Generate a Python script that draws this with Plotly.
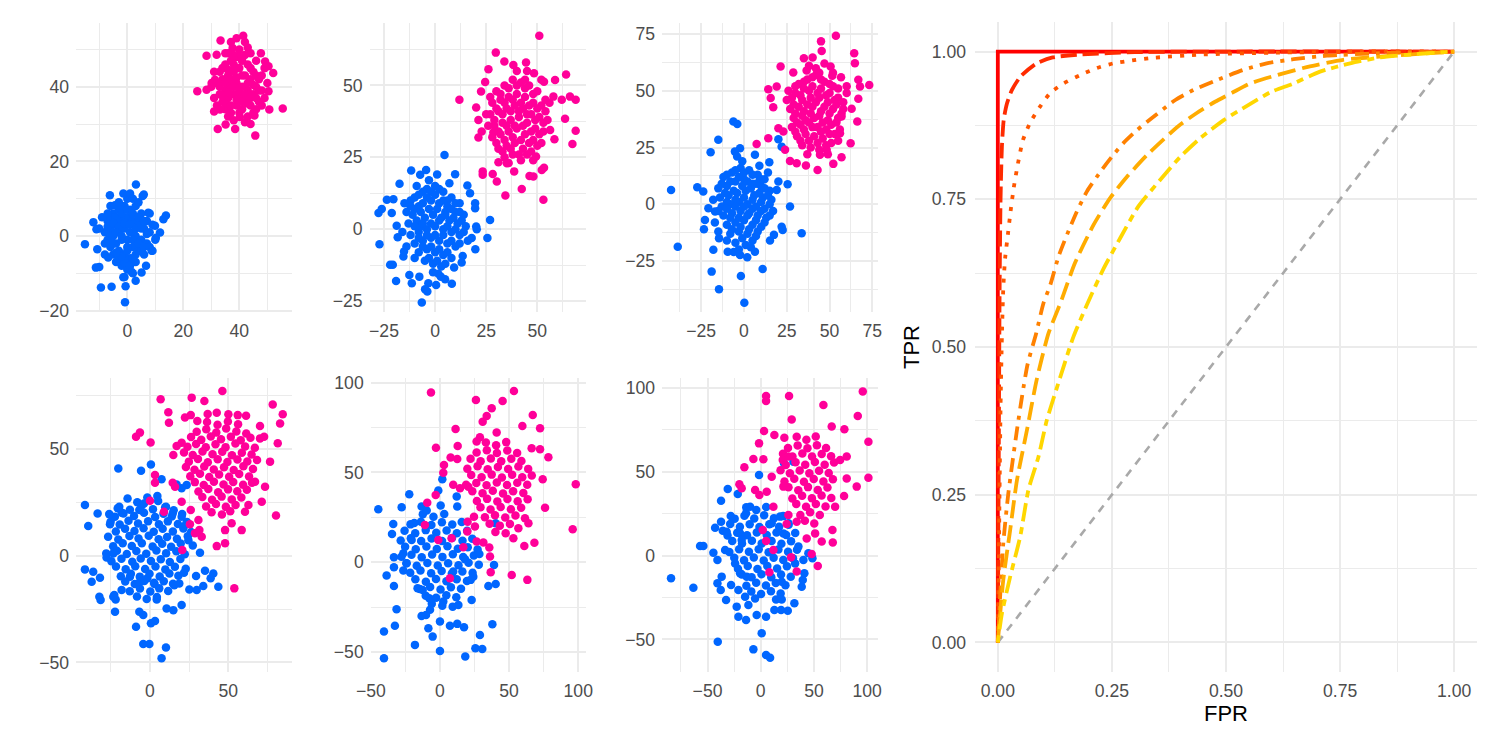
import plotly.graph_objects as go

# ---------------- scatter data (x, y) ----------------
p1_blue = [(-7,4),(-5,6),(-3,7),(-1,8),(1,7),(3,8),(5,6),(7,4),(-8,1),(-6,2),(-4,3),(-2,4),(0,5),(2,4),(4,3),(6,2),(8,1),
           (-7,-1),(-5,0),(-3,1),(-1,2),(1,1),(3,0),(5,-1),(7,-2),(-6,-3),(-4,-2),(-2,-1),(0,-1),(2,-3),(4,-4),(6,-5),
           (-5,-5),(-3,-4),(-1,-5),(1,-6),(3,-7),(5,-4),(-4,-7),(-2,-8),(0,-9),(2,-10),(-1,-11),(-9,5),(-10,2),(9,3),
           (10,-1),(-6,8),(4,9),(0,10),
           (3.1,13.8),(-6.2,10.9),(-1.4,11.4),(1.0,11.4),(5.5,10.7),(5.9,11.1),(-4.4,8.2),(13.8,5.5),(12.9,4.5),(11.7,0.9),
           (10.2,-0.5),(-15.1,-2.2),(-12.1,3.7),(-11.0,1.8),(-10.7,-3.6),(-6.8,-5.8),(-11.2,-8.5),(-10.0,-8.3),(-9.4,-13.8),
           (-5.6,-13.6),(-0.6,-13.5),(-0.8,-17.8),(-1.4,-11.1),(1.5,-9.6),(5.1,-9.8),(6.7,-8.0),(8.7,-4.0),(7.5,6.2),(9.9,2.7)]
p1_blue_more = [(-6,5),(-4,5),(-2,6),(0,7),(2,6),(4,5),(6,4),(-7,2.5),(-5,3.5),(-3,2.5),(-1,3.5),(1,3),(3,2),(5,2),
                (7,0.5),(-6,0),(-4,1),(-2,0),(0,-3),(2,-1),(4,-2),(6,-3),(-5,-2),(-3,-6),(-1,-7),(1,-8),(3,-5),(-2,-5.5),
                (0,-4),(2,-6),(-4,-4.5),(8,-3),(-8,-2),(-3,9),(2,10),(-7,6),(8,6),(9,-4),(-8,-5),(3,-12)]
p1_pink = [(33,44),(35,46),(37,47),(39,48),(41,47),(43,46),(45,44),(47,42),(32,41),(34,42),(36,43),(38,44),(40,45),(42,43),
           (44,42),(46,40),(48,39),(33,38),(35,39),(37,40),(39,41),(41,40),(43,39),(45,38),(47,36),(34,36),(36,37),(38,38),
           (40,37),(42,36),(44,35),(46,34),(35,34),(37,33),(39,35),(41,34),(43,32),(38,31),(36,49),(40,50),(44,49),(30,40),
           (31,37),(49,45),(50,41),(42,52),(37,52),
           (41.4,53.7),(33.3,52.4),(37.6,50.4),(43,50.5),(28.3,48.3),(31.9,48.6),(47.7,49),(49.2,46.8),(50.4,45.5),(52.1,43.7),
           (25,38.8),(28.3,39.2),(55.5,34.2),(50.7,33.9),(48,35),(45.4,32.3),(32.3,28.7),(35.1,29.9),(38.5,28.7),(45.7,26.9),
           (31,33.4),(33.1,33.9),(40.2,31.9),(50.4,38.8),(30.1,41),(31.3,41.9)]
p1_pink_more = [(34,45),(36,44.5),(38,46),(40,48),(42,48.5),(44,45),(46,43),(33,40),(35,41),(37,42),(39,42.5),(41,43),
                (43,41),(45,40.5),(47,39),(34,37.5),(36,38.5),(38,40),(40,39),(42,38),(44,37),(46,37),(35,35.5),(37,35),
                (39,36.5),(41,36),(43,35.5),(45,33),(40,33),(36,32),(42,30.5),(38,48.5),(35,49),(46,47),(48,43),(31,44),
                (32,35),(49,37),(44,30),(39,53)]

p2_blue = [(-12,10),(-8,12),(-4,14),(0,15),(4,13),(8,11),(12,9),(-14,6),(-10,7),(-6,9),(-2,10),(2,9),(6,8),(10,6),(14,5),
           (-13,2),(-9,3),(-5,4),(-1,5),(3,4),(7,3),(11,2),(15,1),(-12,-2),(-8,-1),(-4,0),(0,1),(4,0),(8,-1),(12,-2),
           (-10,-5),(-6,-4),(-2,-3),(2,-4),(6,-5),(10,-6),(-8,-8),(-4,-7),(0,-8),(4,-9),(8,-10),(-5,-11),(-1,-12),(3,-13),
           (-3,17),(1,19),(-16,-1),(16,-4),(-7,1),(5,6),
           (4.6,25.8),(-11.7,20.4),(-4.4,20.6),(-7.3,18.9),(9.8,19.1),(15.8,15.2),(-17.4,15.8),(-23.6,10.2),(-20.4,10.4),
           (-21.2,5.6),(-27.7,5.6),(-26.1,7),(-27.2,-5.2),(-18.8,1.2),(-18.3,-2.8),(19.6,9),(19.6,7.3),(20.1,0.9),(20.4,0),
           (26.9,3.2),(25.6,-3.1),(19.7,-7),(17.9,-3.1),(13.5,-9.3),(13,-11.6),(9.3,-13.3),(8.2,-19),(4.9,-17.4),(0.5,-19.4),
           (-3.3,-18.8),(-3.8,-21.7),(-4.9,-20.9),(-6.5,-25.5),(-19.1,-18),(-11.4,-18.8),(-12.6,-15.9),(-22,-12.4),
           (-20.7,-12.4),(-15.5,-9.5),(-15.2,-7.8),(-7.7,-16.5),(1.6,-15.5),(2.8,-16.5),(17.1,12.5)]
p2_blue_more = [(-10,11),(-6,13),(-2,13),(2,14),(6,10),(10,9),(-12,8),(-8,8),(-4,11),(0,12),(4,10),(8,7),(12,6),(-11,5),
                (-7,6),(-3,7),(1,7),(5,5),(9,4),(13,3),(-10,1),(-6,2),(-2,2),(2,3),(6,1),(10,0),(14,-1),(-8,-3),(-4,-2),
                (0,-2),(4,-2),(8,-4),(12,-5),(-6,-6),(-2,-6),(2,-7),(6,-8),(-3,-10),(1,-11),(5,-12),(-10,-10),(-14,-6),
                (-15,9),(-9,15),(7,16),(-1,-15)]
p2_pink = [(30,48),(34,50),(38,52),(42,51),(46,50),(50,48),(28,44),(32,45),(36,46),(40,47),(44,46),(48,44),(52,43),
           (27,40),(31,41),(35,42),(39,43),(43,42),(47,40),(51,39),(55,38),(29,36),(33,37),(37,38),(41,39),(45,37),(49,35),
           (53,34),(28,32),(32,33),(36,34),(40,35),(44,33),(48,31),(52,30),(31,28),(35,29),(39,30),(43,28),(47,27),
           (34,25),(38,26),(42,24),(56,44),(26,36),(40,55),(45,55),
           (51,67.3),(29.7,61.4),(33.9,58.3),(38.3,57.1),(44.5,58),(26.1,55.6),(48.4,54.2),(53.3,51.3),(58.7,51.9),(64.1,53.8),
           (24.5,51.2),(22.5,47.9),(11.9,45),(20.1,42.3),(21.2,38),(22.8,34),(21.2,31.9),(66,46.1),(68.8,45),(63.6,38.4),
           (68.8,34.2),(67.2,29.6),(23.3,20.1),(23.3,18.9),(28.2,19.2),(30.2,16.6),(34.4,11.7),(42.4,14),(53,10.2),
           (46.2,18.5),(48.1,18.3),(52.2,20.6),(53.3,21.4),(49.4,25.3),(38.7,20.1),(31,23.3),(35.1,22.9),(28.5,33.6),
           (58.4,31.3),(56.3,34.5),(62,45),(57.9,46.1)]
p2_pink_more = [(32,47),(36,49),(40,50),(44,49),(48,47),(30,42),(34,44),(38,45),(42,44),(46,43),(50,42),(54,41),(29,38),
                (33,40),(37,41),(41,41),(45,40),(49,38),(53,37),(31,34),(35,36),(39,36),(43,36),(47,34),(51,33),(30,30),
                (34,31),(38,32),(42,31),(46,30),(50,29),(33,27),(37,28),(41,26),(45,26),(36,23),(54,45),(27,46),(44,52),
                (52,52),(25,40),(48,24)]

p3_blue = [(-12,12),(-7,14),(-2,16),(3,15),(8,13),(12,11),(-15,7),(-10,8),(-5,10),(0,11),(5,9),(10,8),(15,6),
           (-14,3),(-9,4),(-4,5),(1,6),(6,4),(11,3),(16,2),(-13,-1),(-8,0),(-3,1),(2,0),(7,-1),(12,-2),
           (-12,-5),(-7,-4),(-2,-3),(3,-4),(8,-5),(13,-6),(-10,-9),(-5,-8),(0,-7),(5,-9),(10,-10),
           (-8,-13),(-3,-12),(2,-13),(7,-14),(-5,-17),(1,-18),(4,-19),(-18,2),(-17,-8),(17,-3),(-1,19),(9,17),(-6,-21),
           (-6.2,36.5),(-3.9,35.4),(-15,28.4),(-19.5,22.9),(14.8,18.5),(20.1,28.7),(22,25.4),(6.4,21.8),(-2.3,24.7),
           (-5.3,23.2),(-42.6,6.3),(-27.3,7.5),(-23.8,5.6),(25.5,8.8),(26.9,-1),(33.7,-12.8),(-38.7,-18.7),(-23.4,-11),
           (-22.8,-6.9),(22,-9.9),(22.6,-11.3),(17.5,-13.5),(15.2,-16),(-14.6,-15),(-17.9,-20.1),(-9.5,-20.9),(-2.3,-22.4),
           (1.9,-23.4),(6.4,-20.9),(10.9,-28.5),(-18.9,-29.7),(-1.8,-31.6),(-14.6,-37.5),(0.2,-43.4),(-16.9,-3.2),
           (-20.8,-1.8),(20.1,10),(19.1,6.3),(9.3,10.7)]
p3_blue_more = [(-10,13),(-5,15),(0,14),(5,13),(10,11),(-13,9),(-8,10),(-3,12),(2,10),(7,9),(12,7),(-11,5),(-6,6),(-1,8),
                (4,7),(9,5),(14,4),(-10,1),(-5,2),(0,3),(5,2),(10,1),(15,0),(-15,-3),(-10,-2),(-5,-1),(0,-1),(5,-2),
                (10,-3),(15,-5),(-8,-6),(-3,-6),(2,-5),(7,-7),(12,-8),(-7,-11),(-2,-10),(3,-11),(8,-12),(-1,-15),
                (-10,-16),(5,-16),(-3,-20),(-15,-12),(14,14),(-4,21)]
p3_pink = [(30,52),(35,54),(40,56),(45,55),(50,53),(55,51),(28,47),(33,48),(38,50),(43,49),(48,48),(53,46),(58,45),
           (27,42),(32,43),(37,44),(42,45),(47,43),(52,42),(57,40),(29,38),(34,39),(39,40),(44,39),(49,37),(54,36),
           (28,34),(33,35),(38,36),(43,34),(48,33),(53,31),(31,30),(36,31),(41,30),(46,29),(51,27),
           (34,26),(39,25),(44,24),(49,22),(25,46),(60,49),(42,60),(47,62),(38,61),
           (53.7,74.3),(45,71.8),(45.4,67.6),(64.4,66.6),(64.8,62.2),(35,64.4),(40.1,64.7),(21.4,60.7),(28.8,58.1),(36.6,59),
           (50.6,60.7),(56.7,56),(51.6,56.6),(66.8,54.9),(67.8,51.9),(73.2,52.6),(14.2,50.7),(19.1,51.9),(17.1,42.8),
           (15.6,46.8),(66.8,46.5),(62.9,42.1),(66.2,36.5),(7.4,26.6),(14.2,29.1),(24,24),(26.9,19.1),(30.8,18.1),
           (36.2,17.1),(43,15.1),(52.2,17.8),(57,20.7),(62.3,26.9),(44.4,21.8),(48.3,24),(20.1,33.5),(23,32.1),
           (56.1,31.3),(57,38.7)]
p3_pink_more = [(32,53),(37,55),(42,57),(47,54),(52,52),(30,49),(35,51),(40,52),(45,51),(50,49),(55,47),(29,44),(34,46),
                (39,47),(44,47),(49,45),(54,44),(30,40),(35,41),(40,43),(45,41),(50,40),(55,38),(31,36),(36,37),(41,38),
                (46,36),(51,35),(56,33),(30,32),(35,33),(40,34),(45,32),(50,31),(33,28),(38,28),(43,27),(48,26),(55,28),
                (37,22),(58,42),(60,52),(26,50),(44,58),(52,58)]

p4_blue = [(-20.2,40.9),(-5.7,39.8),(0.6,42.8),(7.4,35.8),(4.7,28),(-41.5,23.8),(-39.4,13.9),(-33.4,19.8),(-26,19.5),
           (-20.6,22.2),(-18.1,20.2),(-25.5,14.8),(-6.8,21.4),(-3.8,24.5),(10.2,23),(14.5,19.8),(20.2,18.3),(23,14.8),
           (24.5,7.3),(31.9,1.4),(-41.5,-6.4),(-36.2,-7.5),(-37.2,-12.2),(-31.9,-10.3),(-32.3,-19.2),(-31.5,-20.8),
           (-27.7,-0.8),(-23.4,1.1),(-22.8,-18.4),(-21.9,-20.5),(-22.3,-26.3),(-8.9,-33.3),(-6.8,-26.3),(-4.3,-27.8),
           (0.6,-31.7),(3.2,-30.6),(-4.3,-41.4),(-0.4,-41.4),(10.2,-43),(7.4,-48.1),(10.6,-24.7),(14.9,-25.5),
           (20.2,-23.1),(4.3,-20.5),(25.1,-15.8),(29.8,-16.1),(34,-14.2),(38.7,-10.6),(43.6,-14.5),(40.4,-8.3),(35.1,-7),
           (29.4,-9.5),(15.5,-13.8),(21.7,-8),(18.7,-13),(-1.7,-10.6),(2.6,-12.7),(-6.4,-12.2),(-18.1,-16.1),
           (-23.4,-19.2),(-12.8,-9.8),(20.2,31.6),(23.4,33.1),(17,33.4)]
p4_blue_more = [(-14.3,26.8),(-8.1,25.1),(-1.7,27.3),(5.2,25.6),
                (-19.6,22.9),(-12.8,21.6),(-5.4,23.4),(1.9,21.8),(9.7,22.7),(15.1,21.3),
                (-22.4,18.3),(-16.9,19.8),(-10.2,18.6),(-3.8,20.1),(3.3,18.2),(8.6,19.7),(13.9,18.4),(20.5,19.5),
                (-25.1,15.9),(-19.3,14.6),(-13.7,16.4),(-7.6,15.1),(-1.2,16.2),(5.7,14.8),(11.4,16.1),(17.8,14.9),(23.6,15.8),
                (-21.8,11.3),(-15.9,12.7),(-9.9,11.6),(-4.1,12.9),(2.4,11.2),(8.1,12.6),(14.6,11.4),(21.3,12.8),(26.2,11.1),
                (-26.7,8.9),(-20.2,7.6),(-13.1,9.3),(-7.3,8.1),(-0.8,9.4),(5.5,7.7),(10.9,8.8),(17.2,7.9),(24.1,9.1),
                (-23.5,4.4),(-17.4,5.8),(-11.6,4.6),(-5.2,5.9),(1.7,4.3),(7.8,5.6),(13.5,4.2),(19.6,5.7),(27.3,4.8),
                (-27.9,1.1),(-21.1,2.3),(-14.8,0.8),(-8.7,2.2),(-2.4,0.9),(4.1,2.4),(10.3,1.2),(16.8,2.1),(22.2,0.7),
                (-24.6,-2.6),(-18.2,-1.4),(-11.3,-2.8),(-5.9,-1.3),(0.6,-2.5),(6.9,-1.6),(12.7,-2.9),(19.4,-1.5),
                (-21.7,-5.1),(-15.5,-6.3),(-9.4,-4.9),(-3.1,-6.2),(3.5,-5.0),(9.8,-6.4),(15.9,-5.2),(22.8,-6.1),
                (-18.6,-9.6),(-12.2,-8.4),(-6.5,-9.8),(-0.3,-8.5),(6.2,-9.7),(12.4,-8.3),(18.1,-9.4),
                (-15.8,-12.1),(-9.7,-13.3),(-3.6,-11.9),(2.9,-13.2),(8.8,-12.0),(14.7,-13.1),
                (-12.9,-16.6),(-6.4,-15.4),(0.2,-16.8),(5.9,-15.3),(11.6,-16.5),
                (-8.3,-19.1),(-2.1,-20.3),(4.4,-19.4)]
p4_pink = [(46.2,77.2),(6.8,73.3),(26.6,74.1),(34.7,72.5),(11.7,67.2),(12.1,62.3),(22.3,64.8),(26,65.9),(30.2,63.1),
           (36.8,66.4),(42.6,67),(50,66.3),(56,65.9),(61.3,65.6),(78.3,70.9),(84.7,66.3),(83,62),(70.2,60.8),(70.2,55),
           (72.8,55.8),(81.5,52.7),(-8.9,55.8),(-6.4,57.7),(0.4,53.1),(3.2,37.8),(3.2,34.2),(0,25.8),(8.9,20.6),
           (20.6,2.7),(53.8,-15.3),(42.6,4.5),(47.9,5.8),(33,8.9),(31.5,12),(28.7,10.5),(47.9,12),(52.1,15.2),(58.5,12),
           (71.3,25.3),(62.8,23.8),(60.6,20.6),(80.4,18.8),(73.4,32.3),(67,34.7),(76.6,44.1),(14.5,34.2),(16,32.3),
           (14.9,47.2),(17,51.4),(20.2,53),(20.2,25.3),(26,21.4),(25.5,14.8),(30.9,16.7)]
p4_pink_more = [(36.4,62.7),(43.1,61.4),(49.7,62.9),(56.2,61.6),
                (29.8,58.1),(35.9,59.3),(42.3,57.8),(48.6,59.6),(55.1,58.2),(61.4,57.3),
                (26.2,55.6),(32.7,54.3),(38.8,55.9),(45.3,54.6),(51.6,55.8),(57.9,54.1),(64.1,55.3),
                (23.9,51.1),(29.4,52.4),(35.6,50.8),(41.8,52.2),(48.2,50.9),(54.5,52.6),(60.7,51.2),(66.9,50.6),
                (21.7,48.4),(27.3,47.2),(33.5,48.9),(39.9,47.6),(46.1,48.7),(52.3,47.1),(58.6,48.3),(64.8,47.4),
                (24.8,44.1),(30.6,45.3),(36.9,43.8),(43.2,45.2),(49.4,43.9),(55.8,45.1),(62.1,44.2),(68.3,44.9),
                (22.9,41.6),(28.4,40.3),(34.6,41.8),(40.7,40.4),(47.2,41.5),(53.4,40.2),(59.6,41.9),(65.7,40.6),
                (25.7,37.2),(31.9,38.4),(37.8,36.9),(44.1,38.1),(50.5,37.0),(56.9,38.3),(63.2,37.1),
                (28.6,34.5),(34.3,33.2),(40.8,34.7),(46.9,33.4),(53.1,34.6),(59.4,33.3),(65.1,34.2),
                (30.9,30.1),(37.2,31.3),(43.5,29.8),(49.8,31.1),(55.7,30.2),(61.8,30.9),
                (33.4,27.5),(39.6,26.2),(45.7,27.7),(52.2,26.4),(58.3,27.3),
                (35.8,23.1),(42.1,24.2),(48.4,22.9),(54.6,23.8),
                (39.3,20.4),(45.9,19.3),(51.2,20.8)]

p5_blue = [(1.7,46.2),(-1.2,39.9),(-22.2,37.9),(-13.3,31),(-9.6,28.8),(0.5,31.6),(-27.7,30.6),(-44.6,29.5),(12.1,36.6),
           (12.5,31),(-33.8,21.3),(-34.7,15.8),(-18.6,21.9),(-33.3,2.8),(-33.3,-2.8),(-38.6,-7.4),(-33.3,-13.2),
           (-26.5,-4.6),(-16.2,-14.5),(-31.4,-26.2),(-32.6,-35.4),(-40.5,-38.6),(-40.5,-53.5),(-18.1,-46),(-13.3,-29.9),
           (-10.1,-29.3),(-7.2,-26.5),(-8.4,-36.7),(-5.3,-41.4),(0,-49.4),(18.3,-52.5),(25.6,-47.9),(30.6,-48.3),
           (28.9,-40.5),(37.9,-34.5),(0,-33),(7.2,-35.3),(12.5,-34.3),(17.4,-36.2),(9.2,-24.7),(13.3,-23.8),(2.4,-21.9),
           (22.9,-21),(22.2,-9.8),(24.1,-8),(35,-13.2),(40.3,-12.1),(39.1,-1.5),(28.5,4.6),(40.3,21.7),(18.1,1.7),
           (9.6,-5.2),(-7.7,-20),(-12.5,-15.4),(-20.5,12.4),(-26.5,5),(-24.1,-0.6)]
p5_blue_more = [(-12.4,26.8),(-4.7,25.3),(3.1,26.9),
                (-21.3,21.1),(-13.8,22.6),(-6.2,20.8),(1.4,22.3),(8.9,21.0),(15.7,22.4),
                (-25.6,17.6),(-17.9,16.2),(-10.3,17.9),(-2.7,16.4),(4.8,17.7),(12.2,16.1),(19.6,17.5),
                (-28.4,12.1),(-21.1,13.4),(-13.6,11.8),(-6.1,13.2),(1.5,11.9),(8.7,13.5),(16.3,12.0),(23.4,13.1),
                (-25.2,8.6),(-17.5,7.3),(-9.8,8.8),(-2.3,7.4),(5.4,8.9),(12.9,7.5),(20.1,8.4),(27.2,7.1),
                (-27.9,3.1),(-20.6,4.2),(-13.2,2.8),(-5.7,4.3),(1.8,3.0),(9.3,4.4),(16.8,2.9),(24.5,3.8),
                (-24.3,-0.6),(-16.8,-1.9),(-9.1,-0.4),(-1.6,-1.8),(5.9,-0.5),(13.4,-1.6),(20.7,-0.3),(28.1,-1.4),
                (-21.5,-5.9),(-14.1,-4.6),(-6.4,-6.1),(1.2,-4.8),(8.6,-6.2),(16.2,-5.1),(23.6,-5.8),
                (-17.8,-9.4),(-10.2,-10.8),(-2.9,-9.3),(4.7,-10.6),(12.1,-9.5),(19.5,-10.4),
                (-14.6,-14.9),(-7.1,-13.8),(0.4,-15.2),(7.9,-13.9),(15.2,-14.7),
                (-10.3,-18.6),(-2.8,-19.7),(4.6,-18.4),(11.8,-19.5),
                (-5.9,-23.1),(1.7,-24.2)]
p5_pink = [(-6.5,94.5),(53.5,95.4),(26,90.4),(45.3,89.8),(37.4,85.7),(33.8,81.5),(30.9,78.3),(67.1,82),(59.6,75.9),
           (72.4,74.6),(11.3,74.2),(-2.9,63.8),(12.8,64.8),(26.5,67.2),(28.9,69.6),(41,72.2),(66.3,63.5),(72.4,62.9),
           (78.4,58.5),(2.9,54.2),(2.4,49.9),(7.7,58.3),(12.5,57.5),(98.2,43.4),(96,18.4),(76,30.4),(74.3,46.2),
           (-3.1,37.5),(-9.2,33.2),(-10.9,20.8),(-1.2,12.4),(8.4,13.4),(16.9,8.4),(7.2,-8.9),(36.7,-5.6),(51.9,-7.1),
           (63.2,-9.8),(36.2,3.2),(35.7,8.2),(61,9.1),(68.3,10.9),(53.1,13.4),(61.5,24.5),(64,21.7),(56.7,18.9),
           (9.6,43.1),(14.5,41.2),(20.5,42.1),(20,22.6),(24.6,25.4),(26.5,11.5),(31.4,11),(19.8,17.1),(25.3,19.9)]
p5_pink_more = [(33.2,66.7),(40.6,65.2),(47.9,66.9),
                (26.5,61.1),(33.9,62.4),(41.2,60.8),(48.7,62.2),(55.8,60.9),
                (22.1,57.6),(29.4,56.3),(36.8,57.8),(44.3,56.2),(51.6,57.7),(58.9,56.4),
                (19.8,52.1),(27.2,53.4),(34.5,51.8),(41.9,53.1),(49.3,51.9),(56.7,53.3),(63.8,52.0),
                (22.6,48.6),(30.1,47.3),(37.4,48.8),(44.8,47.2),(52.2,48.7),(59.5,47.4),(66.4,48.3),
                (18.9,43.1),(26.3,44.2),(33.7,42.9),(41.1,44.4),(48.5,43.0),(55.9,44.3),(63.1,43.2),
                (23.4,39.6),(30.8,38.4),(38.2,39.8),(45.6,38.3),(52.9,39.5),(60.3,38.6),
                (26.7,34.1),(34.1,35.3),(41.5,33.9),(48.8,35.2),(56.2,34.0),(63.4,35.1),
                (29.3,30.6),(36.6,29.4),(43.9,30.8),(51.3,29.5),(58.7,30.4),
                (32.5,25.1),(39.8,26.2),(47.2,24.9),(54.6,26.0),
                (35.9,21.5),(43.3,20.4),(50.6,21.3),
                (40.1,16.9),(47.5,16.2)]

p6_blue = [(-84.3,-13.5),(-63.3,-19.1),(-40.4,-51.3),(-6.9,-55.9),(0.9,-46.3),(5,-59.3),(8.8,-60.9),(-57,5.8),(-53.9,5.8),
           (-42.9,16.7),(-37.3,20.3),(-35.7,14.9),(-32,14.3),(-37.3,32.8),(-31,39.8),(-28.2,23.7),(-21.6,36.8),
           (-1.6,48.1),(21.9,55.1),(30.7,56.1),(-44.5,1.8),(-40.7,-2.6),(-33.5,3.4),(-36.7,-12.5),(-40.7,-16.5),
           (-37.6,-20.5),(-32.6,-26.5),(-27.9,-17.5),(-21,-20.5),(-22.6,-30.4),(-21,-36.4),(-13.8,-38.4),(-3.8,-35.4),
           (5,-36.4),(12.8,-32.4),(19.1,-32.4),(25.4,-32.8),(31.6,-28.4),(38.5,-18.5),(39.5,-14.5),(41,-10.5),
           (48.6,-1.6),(44.8,1.4),(19.7,-15.5),(14.4,-26.1),(19.7,-26.1),(-14.7,-24.5),(-11.6,-29.4),(-5.3,-25.5),
           (-10,29.2),(-13.8,25.3),(-19.4,13.3),(-17.9,9.3),(10.3,19.3),(18.2,23.3),(26,19.3),(21.3,13.3),(35.4,5.4),
           (40.1,-2.6),(32.3,-4.6),(-24.1,-4.6),(-19.4,-10.5),(-13.2,-12.5)]
p6_blue_more = [(-13.6,28.9),(-4.2,27.2),(5.1,29.1),
                (-24.5,22.1),(-15.3,23.8),(-6.1,22.2),(3.2,24.1),(12.4,22.4),(21.1,23.6),
                (-28.7,18.9),(-19.6,17.2),(-10.4,18.8),(-1.2,17.1),(8.1,18.7),(17.3,17.3),(26.2,18.4),
                (-31.2,12.1),(-22.1,13.7),(-12.9,12.2),(-3.7,13.9),(5.6,12.3),(14.8,13.8),(23.9,12.4),(32.4,13.5),
                (-26.8,8.8),(-17.6,7.2),(-8.3,8.9),(0.9,7.3),(10.2,8.7),(19.4,7.1),(28.5,8.6),
                (-29.5,2.2),(-20.3,3.8),(-11.1,2.3),(-1.9,3.9),(7.4,2.1),(16.6,3.7),(25.7,2.4),(34.1,3.5),
                (-24.9,-1.2),(-15.7,-2.8),(-6.5,-1.1),(2.8,-2.9),(12.1,-1.3),(21.2,-2.6),(30.3,-1.5),
                (-21.4,-7.8),(-12.2,-6.1),(-3.1,-7.9),(6.2,-6.2),(15.4,-7.7),(24.6,-6.3),
                (-17.8,-11.2),(-8.6,-12.9),(0.7,-11.1),(9.9,-12.8),(19.1,-11.3),(28.2,-12.6),
                (-13.5,-17.9),(-4.3,-16.2),(4.9,-17.8),(14.1,-16.3),(23.2,-17.6),
                (-8.9,-21.3),(0.3,-22.8),(9.6,-21.2),(18.7,-22.6)]
p6_pink = [(95.9,97.9),(5,95.3),(5,92.3),(26.6,95.3),(58.9,89.9),(91.2,83.3),(29.1,81.3),(66.7,77),(78.6,75.4),
           (101.2,68),(101.2,46.5),(3.1,74.4),(-1.6,67),(12.8,72),(22.2,70.4),(-6.9,57.7),(-15.4,52.7),(2.5,57.5),
           (-20.1,42.6),(-17.9,40.2),(-5.3,39.2),(-1.3,36.2),(90.2,41.2),(80.8,46.1),(74.6,57.1),(80.8,59.1),
           (78.3,35.6),(69.9,29.2),(67.4,15.3),(67.7,7.8),(53.6,-6.2),(33.8,-9.5),(28.5,-1),(8.1,-9.9),(11.9,3.4),
           (5,8.8),(1.9,15.3),(47.9,1),(57.3,8.4),(51.1,13.3),(43.2,10.3),(24.4,18.9),(33.8,20.3),(26,24.3),(5.6,38.2),
           (11.9,29.2),(10.3,47.1),(21.3,41.2),(20.7,57.1),(26,59.1)]
p6_pink_more = [(33.8,70.9),(42.9,69.2),(51.7,71.1),
                (25.6,64.2),(34.7,65.8),(43.9,64.1),(52.8,65.9),(61.4,64.3),
                (20.9,60.8),(29.8,59.2),(39.1,60.9),(48.2,59.1),(57.3,60.7),(66.1,59.3),
                (23.5,54.1),(32.7,55.8),(41.8,54.2),(50.9,55.9),(60.1,54.3),(68.9,55.6),
                (18.6,50.9),(27.4,49.2),(36.6,50.8),(45.7,49.1),(54.8,50.7),(63.9,49.3),
                (22.3,44.2),(31.5,45.9),(40.6,44.1),(49.8,45.8),(58.9,44.3),(67.8,45.6),
                (26.1,40.8),(35.3,39.1),(44.4,40.9),(53.6,39.2),(62.7,40.7),
                (29.7,34.1),(38.9,35.8),(48.1,34.2),(57.2,35.9),(66.3,34.4),
                (33.4,30.9),(42.6,29.2),(51.8,30.8),(60.9,29.3),
                (37.2,24.2),(46.4,25.9),(55.5,24.3),
                (41.5,20.8),(50.3,19.2)]

# ---------------- ROC curves (FPR, TPR) ----------------
roc1_fpr = [0, 0, 1]
roc1_tpr = [0, 1, 1]
roc2_fpr = [0, 0.002, 0.004, 0.006, 0.009, 0.013, 0.02, 0.031, 0.05, 0.085, 0.12, 0.18, 0.3, 0.5, 1]
roc2_tpr = [0, 0.3, 0.6, 0.75, 0.84, 0.885, 0.912, 0.935, 0.958, 0.98, 0.99, 0.995, 0.999, 1, 1]
roc3_fpr = [0, 0.003, 0.006, 0.009, 0.012, 0.016, 0.022, 0.028, 0.035, 0.044, 0.055, 0.071, 0.091, 0.115, 0.144,
            0.18, 0.217, 0.253, 0.294, 0.334, 0.45, 0.6, 0.8, 1]
roc3_tpr = [0, 0.2, 0.4, 0.52, 0.6, 0.65, 0.69, 0.73, 0.77, 0.81, 0.85, 0.88, 0.905, 0.93, 0.946,
            0.96, 0.972, 0.98, 0.985, 0.989, 0.995, 0.998, 1, 1]
roc4_fpr = [0, 0.005, 0.012, 0.023, 0.042, 0.053, 0.065, 0.084, 0.1, 0.115, 0.133, 0.15, 0.173, 0.195, 0.228, 0.25,
            0.275, 0.305, 0.337, 0.389, 0.429, 0.478, 0.538, 0.589, 0.648, 0.721, 0.83, 1]
roc4_tpr = [0, 0.077, 0.168, 0.252, 0.36, 0.416, 0.47, 0.523, 0.574, 0.605, 0.653, 0.687, 0.729, 0.763, 0.8, 0.822,
            0.845, 0.867, 0.887, 0.918, 0.935, 0.951, 0.969, 0.98, 0.987, 0.993, 0.997, 1]
roc5_fpr = [0, 0.012, 0.027, 0.042, 0.064, 0.085, 0.111, 0.137, 0.169, 0.21, 0.246, 0.283, 0.327, 0.396, 0.436,
            0.476, 0.513, 0.553, 0.611, 0.684, 0.757, 0.867, 1]
roc5_tpr = [0, 0.106, 0.19, 0.275, 0.36, 0.444, 0.523, 0.574, 0.642, 0.707, 0.752, 0.788, 0.825, 0.874, 0.896,
            0.915, 0.93, 0.946, 0.96, 0.975, 0.986, 0.993, 1]
roc6_fpr = [0, 0.009, 0.027, 0.049, 0.067, 0.089, 0.107, 0.129, 0.166, 0.195, 0.232, 0.268, 0.308, 0.356, 0.4,
            0.443, 0.495, 0.546, 0.597, 0.648, 0.706, 0.772, 0.838, 0.94, 1]
roc6_tpr = [0, 0.049, 0.111, 0.179, 0.258, 0.314, 0.375, 0.43, 0.518, 0.571, 0.633, 0.684, 0.738, 0.783, 0.822,
            0.853, 0.884, 0.908, 0.931, 0.946, 0.966, 0.98, 0.99, 0.997, 1]
diag = [0, 1]

# ---------------- styling ----------------
BLUE = "#0066FF"
PINK = "#FF0099"
ROC_COLORS = ["#FF0000", "#FF2B00", "#FF5600", "#FF8100", "#FFAC00", "#FFD700"]
ROC_DASH = ["solid", "16px,6px", "4px,8px", "4px,7px,14px,7px", "18px,7px", "7px,6px,18px,6px"]
FONT = "Liberation Sans, Arial, sans-serif"
GRID = "#EBEBEB"
TICKC = "#4D4D4D"
W, H = 1500, 750
OFF = 8  # page body margin of the html page

panels = [
    (p1_blue + p1_blue_more, p1_pink + p1_pink_more, (76, 292), (23, 312), (-18.3, 58.8), (-20.4, 57.1), 20, 20),
    (p2_blue + p2_blue_more, p2_pink + p2_pink_more, (369.5, 585.7), (23, 312), (-32.1, 73.7), (-28.8, 71.7), 25, 25),
    (p3_blue + p3_blue_more, p3_pink + p3_pink_more, (662, 878), (23, 312), (-47.9, 78.3), (-47.5, 79.9), 25, 25),
    (p4_blue_more + p4_blue, p4_pink_more + p4_pink, (76, 292), (378, 672), (-47.2, 90.6), (-54.5, 83.3), 50, 50),
    (p5_blue_more + p5_blue, p5_pink_more + p5_pink, (370.7, 585.7), (378, 672), (-50.1, 105.4), (-61.1, 102.6), 50, 50),
    (p6_blue_more + p6_blue, p6_pink_more + p6_pink, (662, 878), (378, 672), (-92.8, 110.2), (-69.4, 106.0), 50, 50),
]

def xdom(a, b):
    return [(a - OFF) / W, (b - OFF) / W]

def ydom(top, bottom):
    return [1 - (bottom - OFF) / H, 1 - (top - OFF) / H]

fig = go.Figure()
layout = {}

def axis_common(rng, dtick, standoff):
    return dict(range=list(rng), dtick=dtick, tick0=0, showgrid=True, gridcolor=GRID, gridwidth=1.6,
                zeroline=False, showline=False, ticks="", automargin=False, ticklabelstandoff=standoff,
                tickfont=dict(family=FONT, size=17.6, color=TICKC),
                minor=dict(dtick=dtick / 2, tick0=0, showgrid=True, gridcolor=GRID, gridwidth=0.8),
                fixedrange=True)

for i, (blue, pink, xpx, ypx, xr, yr, dx, dy) in enumerate(panels, start=1):
    xa = "x" if i == 1 else f"x{i}"
    ya = "y" if i == 1 else f"y{i}"
    for pts, col in ((blue, BLUE), (pink, PINK)):
        fig.add_trace(go.Scatter(x=[p[0] for p in pts], y=[p[1] for p in pts], mode="markers",
                                 marker=dict(color=col, size=8.5, line=dict(width=0)),
                                 xaxis=xa, yaxis=ya, showlegend=False, hoverinfo="skip"))
    xd = axis_common(xr, dx, 6)
    xd.update(domain=xdom(*xpx), anchor=ya)
    yd = axis_common(yr, dy, 6)
    yd.update(domain=ydom(*ypx), anchor=xa)
    layout["xaxis" if i == 1 else f"xaxis{i}"] = xd
    layout["yaxis" if i == 1 else f"yaxis{i}"] = yd

# ROC panel
fig.add_trace(go.Scatter(x=diag, y=diag, mode="lines", line=dict(color="#A9A9A9", width=2.6, dash="8px,7px"),
                         xaxis="x7", yaxis="y7", showlegend=False, hoverinfo="skip"))
roc_sets = [(roc1_fpr, roc1_tpr), (roc2_fpr, roc2_tpr), (roc3_fpr, roc3_tpr),
            (roc4_fpr, roc4_tpr), (roc5_fpr, roc5_tpr), (roc6_fpr, roc6_tpr)]
for k, ((fx, ty), col, dash) in enumerate(zip(roc_sets, ROC_COLORS, ROC_DASH)):
    shape = "linear" if k == 0 else "spline"
    fig.add_trace(go.Scatter(x=fx, y=ty, mode="lines",
                             line=dict(color=col, width=3.8, dash=dash, shape=shape, smoothing=0.6),
                             xaxis="x7", yaxis="y7", showlegend=False, hoverinfo="skip"))

xr7 = axis_common((-0.05, 1.05), 0.25, 6)
xr7.update(domain=xdom(975, 1477), anchor="y7", tickformat=".2f",
           title=dict(text="FPR", font=dict(family=FONT, size=22, color="black"), standoff=4))
yr7 = axis_common((-0.05, 1.05), 0.25, 8)
yr7.update(domain=ydom(22, 672), anchor="x7", tickformat=".2f",
           title=dict(text="TPR", font=dict(family=FONT, size=22, color="black"), standoff=6))
layout["xaxis7"] = xr7
layout["yaxis7"] = yr7

fig.update_layout(width=W, height=H, margin=dict(l=0, r=0, t=0, b=0),
                  paper_bgcolor="white", plot_bgcolor="white",
                  font=dict(family=FONT), **layout)

fig.write_html("out.html")
